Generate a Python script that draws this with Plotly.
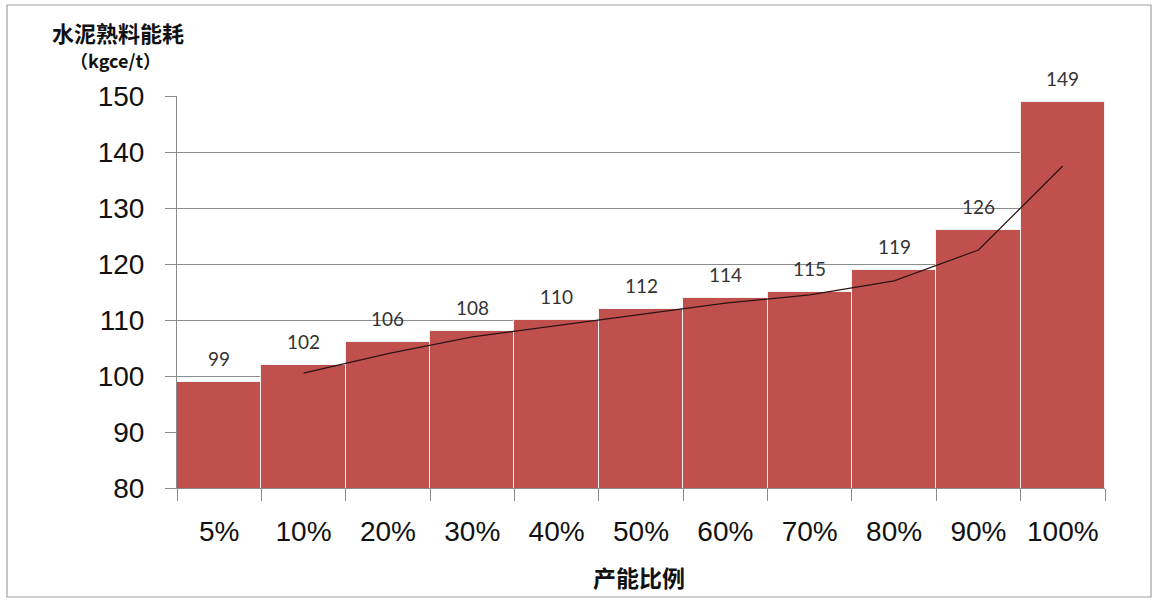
import plotly.graph_objects as go

categories = ["5%", "10%", "20%", "30%", "40%", "50%", "60%", "70%", "80%", "90%", "100%"]
energy = [99, 102, 106, 108, 110, 112, 114, 115, 119, 126, 149]
trend_categories = ["10%", "20%", "30%", "40%", "50%", "60%", "70%", "80%", "90%", "100%"]
trend_values = [100.5, 104, 107, 109, 111, 113, 114.5, 117, 122.5, 137.5]
y_ticks = [80, 90, 100, 110, 120, 130, 140, 150]

fig = go.Figure()
fig.add_trace(go.Bar(
    x=categories, y=energy, width=1,
    marker=dict(color="#C0504D", line=dict(color="#f2f2f2", width=1)),
    showlegend=False, hoverinfo="x+y",
))
fig.add_trace(go.Scatter(
    x=trend_categories, y=trend_values, mode="lines",
    line=dict(color="#2a1414", width=1.2), showlegend=False,
))

for c, v in zip(categories, energy):
    fig.add_annotation(x=c, y=v, text=str(v), showarrow=False,
                       yanchor="bottom", yshift=10,
                       font=dict(family="Lato, Open Sans, sans-serif", size=19, color="#333333"))

cjk = "Noto Sans CJK SC"
fig.add_annotation(xref="paper", yref="paper", x=(50 - 177) / 928, y=(488 - 32) / 392,
                   xanchor="left", yanchor="middle",
                   text="<b>水泥熟料能耗</b>", showarrow=False,
                   font=dict(family=cjk, size=22, color="#111111"))
fig.add_annotation(xref="paper", yref="paper", x=(68 - 177) / 928, y=(488 - 60) / 392,
                   xanchor="left", yanchor="middle",
                   text="<b>（kgce/t）</b>", showarrow=False,
                   font=dict(family=cjk, size=18, color="#111111"))
fig.add_annotation(xref="paper", yref="paper", x=(639 - 177) / 928, y=-(577 - 488) / 392,
                   xanchor="center", yanchor="middle",
                   text="<b>产能比例</b>", showarrow=False,
                   font=dict(family=cjk, size=23, color="#111111"))

# outer frame
fig.add_shape(type="rect", xref="paper", yref="paper",
              x0=-170 / 928, x1=(1151 - 177) / 928, y0=-(597 - 488) / 392, y1=(488 - 5) / 392,
              line=dict(color="#a0a0a0", width=1.2), fillcolor="rgba(0,0,0,0)")

fig.update_layout(
    width=1157, height=601,
    margin=dict(l=177, r=52, t=96, b=113),
    paper_bgcolor="white", plot_bgcolor="white",
    bargap=0,
    xaxis=dict(
        type="category", tickson="boundaries", ticks="outside", ticklen=12,
        tickcolor="#8c8c8c", showgrid=False, showline=True, linecolor="#8c8c8c",
        tickfont=dict(family="Liberation Sans, Arial", size=28, color="#111111"),
        ticklabelstandoff=18, range=[-0.5, 10.5],
    ),
    yaxis=dict(
        range=[80, 150], tickvals=y_ticks, ticks="outside", ticklen=11,
        tickcolor="#8c8c8c", showgrid=True, gridcolor="#8c8c8c", gridwidth=1,
        showline=True, linecolor="#8c8c8c", zeroline=False,
        tickfont=dict(family="Liberation Sans, Arial", size=28, color="#111111"),
        ticklabelstandoff=15,
    ),
)

fig.write_html("out.html")
